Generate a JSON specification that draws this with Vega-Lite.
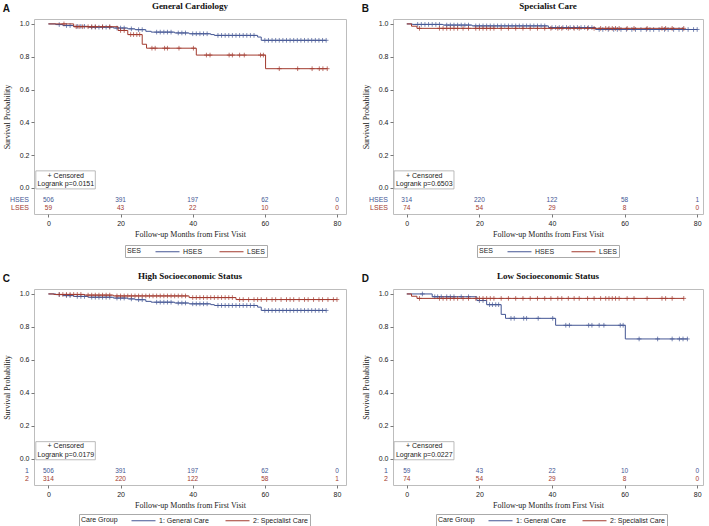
{
"$schema": "https://vega.github.io/schema/vega-lite/v6.json",
"padding": {"left": 2, "top": 1, "right": 0, "bottom": 0},
"datasets": {
"GCH": [{"t":0,"s":1,"c":0},{"t":2,"s":0.996,"c":0},{"t":3,"s":0.996,"c":1},{"t":4,"s":0.99,"c":0},{"t":5,"s":0.99,"c":1},{"t":6,"s":0.99,"c":1},{"t":7,"s":0.985,"c":0},{"t":8,"s":0.985,"c":1},{"t":9,"s":0.985,"c":1},{"t":10,"s":0.985,"c":1},{"t":11,"s":0.98,"c":0},{"t":12,"s":0.98,"c":1},{"t":13,"s":0.98,"c":1},{"t":14,"s":0.98,"c":1},{"t":15,"s":0.98,"c":1},{"t":16,"s":0.98,"c":1},{"t":17,"s":0.98,"c":1},{"t":18,"s":0.975,"c":0},{"t":19,"s":0.975,"c":1},{"t":20,"s":0.975,"c":1},{"t":21,"s":0.975,"c":1},{"t":22,"s":0.97,"c":0},{"t":23,"s":0.97,"c":1},{"t":24,"s":0.965,"c":0},{"t":25,"s":0.965,"c":1},{"t":26,"s":0.965,"c":1},{"t":27,"s":0.955,"c":0},{"t":28.5,"s":0.95,"c":0},{"t":30,"s":0.95,"c":1},{"t":31,"s":0.95,"c":1},{"t":32,"s":0.95,"c":1},{"t":33,"s":0.95,"c":1},{"t":34,"s":0.95,"c":1},{"t":35,"s":0.945,"c":0},{"t":36,"s":0.945,"c":1},{"t":37,"s":0.945,"c":1},{"t":38,"s":0.945,"c":1},{"t":39,"s":0.94,"c":0},{"t":40,"s":0.94,"c":1},{"t":41,"s":0.94,"c":1},{"t":42,"s":0.94,"c":1},{"t":43,"s":0.94,"c":1},{"t":44,"s":0.94,"c":1},{"t":45,"s":0.935,"c":0},{"t":46,"s":0.93,"c":0},{"t":47,"s":0.93,"c":1},{"t":48,"s":0.93,"c":1},{"t":49,"s":0.93,"c":1},{"t":50,"s":0.93,"c":1},{"t":51,"s":0.93,"c":1},{"t":52,"s":0.93,"c":1},{"t":53,"s":0.93,"c":1},{"t":54,"s":0.93,"c":1},{"t":55,"s":0.93,"c":1},{"t":56,"s":0.93,"c":1},{"t":57,"s":0.93,"c":1},{"t":58,"s":0.92,"c":0},{"t":59,"s":0.9,"c":0},{"t":60,"s":0.9,"c":1},{"t":61,"s":0.9,"c":1},{"t":62,"s":0.9,"c":1},{"t":63,"s":0.9,"c":1},{"t":64,"s":0.9,"c":1},{"t":65,"s":0.9,"c":1},{"t":66,"s":0.9,"c":1},{"t":67,"s":0.9,"c":1},{"t":68,"s":0.9,"c":1},{"t":69,"s":0.9,"c":1},{"t":70,"s":0.9,"c":1},{"t":71,"s":0.9,"c":1},{"t":72,"s":0.9,"c":1},{"t":73,"s":0.9,"c":1},{"t":74,"s":0.9,"c":1},{"t":75,"s":0.9,"c":1},{"t":76,"s":0.9,"c":1},{"t":77,"s":0.9,"c":1}],
"GCL": [{"t":0,"s":1,"c":0},{"t":4.3,"s":1,"c":1},{"t":7,"s":0.983,"c":0},{"t":7.7,"s":0.983,"c":1},{"t":8.5,"s":0.983,"c":1},{"t":9.5,"s":0.983,"c":1},{"t":11,"s":0.983,"c":1},{"t":12,"s":0.983,"c":1},{"t":13,"s":0.983,"c":1},{"t":15,"s":0.983,"c":1},{"t":17,"s":0.983,"c":1},{"t":19.3,"s":0.96,"c":0},{"t":20,"s":0.96,"c":1},{"t":21,"s":0.96,"c":1},{"t":22,"s":0.935,"c":0},{"t":22.8,"s":0.935,"c":1},{"t":23.6,"s":0.935,"c":1},{"t":24.5,"s":0.935,"c":1},{"t":25.3,"s":0.935,"c":1},{"t":26,"s":0.876,"c":0},{"t":27.2,"s":0.852,"c":0},{"t":28.7,"s":0.852,"c":1},{"t":29.6,"s":0.852,"c":1},{"t":32.2,"s":0.852,"c":1},{"t":33,"s":0.852,"c":1},{"t":36.2,"s":0.852,"c":1},{"t":40.2,"s":0.852,"c":1},{"t":41,"s":0.81,"c":0},{"t":43.8,"s":0.81,"c":1},{"t":44.8,"s":0.81,"c":1},{"t":50.1,"s":0.81,"c":1},{"t":51,"s":0.81,"c":1},{"t":53,"s":0.81,"c":1},{"t":54.3,"s":0.81,"c":1},{"t":58.8,"s":0.81,"c":1},{"t":59.6,"s":0.81,"c":1},{"t":60.2,"s":0.727,"c":0},{"t":64,"s":0.727,"c":1},{"t":69.1,"s":0.727,"c":1},{"t":73.1,"s":0.727,"c":1},{"t":75.1,"s":0.727,"c":1},{"t":76.1,"s":0.727,"c":1},{"t":77.3,"s":0.727,"c":1}],
"SCH": [{"t":0,"s":1,"c":0},{"t":1.5,"s":0.997,"c":0},{"t":3,"s":0.997,"c":1},{"t":4,"s":0.997,"c":1},{"t":5,"s":0.997,"c":1},{"t":6,"s":0.997,"c":1},{"t":7,"s":0.997,"c":1},{"t":8,"s":0.997,"c":1},{"t":9,"s":0.997,"c":1},{"t":10,"s":0.993,"c":0},{"t":11,"s":0.993,"c":1},{"t":12,"s":0.993,"c":1},{"t":13,"s":0.993,"c":1},{"t":14,"s":0.993,"c":1},{"t":15,"s":0.993,"c":1},{"t":16,"s":0.993,"c":1},{"t":17,"s":0.993,"c":1},{"t":18,"s":0.988,"c":0},{"t":19,"s":0.988,"c":1},{"t":20,"s":0.988,"c":1},{"t":21,"s":0.988,"c":1},{"t":22,"s":0.988,"c":1},{"t":23,"s":0.988,"c":1},{"t":24,"s":0.988,"c":1},{"t":25,"s":0.988,"c":1},{"t":26,"s":0.988,"c":1},{"t":27,"s":0.988,"c":1},{"t":28,"s":0.988,"c":1},{"t":29,"s":0.988,"c":1},{"t":30,"s":0.988,"c":1},{"t":31,"s":0.988,"c":1},{"t":32,"s":0.988,"c":1},{"t":33,"s":0.988,"c":1},{"t":34,"s":0.988,"c":1},{"t":35,"s":0.988,"c":1},{"t":36,"s":0.988,"c":1},{"t":37,"s":0.988,"c":1},{"t":38,"s":0.988,"c":1},{"t":39,"s":0.978,"c":0},{"t":40,"s":0.978,"c":1},{"t":41,"s":0.978,"c":1},{"t":42,"s":0.978,"c":1},{"t":43,"s":0.978,"c":1},{"t":44,"s":0.978,"c":1},{"t":45,"s":0.978,"c":1},{"t":46,"s":0.978,"c":1},{"t":47,"s":0.978,"c":1},{"t":48,"s":0.978,"c":1},{"t":49,"s":0.978,"c":1},{"t":50,"s":0.978,"c":1},{"t":51,"s":0.978,"c":1},{"t":52,"s":0.966,"c":0},{"t":53,"s":0.966,"c":1},{"t":54,"s":0.966,"c":1},{"t":55.5,"s":0.966,"c":1},{"t":57,"s":0.966,"c":1},{"t":58,"s":0.966,"c":1},{"t":59,"s":0.966,"c":1},{"t":60.5,"s":0.966,"c":1},{"t":62,"s":0.966,"c":1},{"t":63,"s":0.966,"c":1},{"t":64.5,"s":0.966,"c":1},{"t":66,"s":0.966,"c":1},{"t":67,"s":0.966,"c":1},{"t":68,"s":0.966,"c":1},{"t":69.5,"s":0.966,"c":1},{"t":71,"s":0.966,"c":1},{"t":72,"s":0.966,"c":1},{"t":73.5,"s":0.966,"c":1},{"t":75,"s":0.966,"c":1},{"t":76,"s":0.966,"c":1},{"t":77.5,"s":0.966,"c":1},{"t":79,"s":0.966,"c":1},{"t":80,"s":0.966,"c":1}],
"SCL": [{"t":0,"s":1,"c":0},{"t":1.3,"s":0.986,"c":0},{"t":2.8,"s":0.973,"c":0},{"t":3.5,"s":0.973,"c":1},{"t":9,"s":0.973,"c":1},{"t":10,"s":0.973,"c":1},{"t":11,"s":0.973,"c":1},{"t":12,"s":0.973,"c":1},{"t":13,"s":0.973,"c":1},{"t":14,"s":0.973,"c":1},{"t":15.5,"s":0.973,"c":1},{"t":17,"s":0.973,"c":1},{"t":19,"s":0.973,"c":1},{"t":20,"s":0.973,"c":1},{"t":21,"s":0.973,"c":1},{"t":22,"s":0.973,"c":1},{"t":23,"s":0.973,"c":1},{"t":24,"s":0.973,"c":1},{"t":26,"s":0.973,"c":1},{"t":28,"s":0.973,"c":1},{"t":30,"s":0.973,"c":1},{"t":32,"s":0.973,"c":1},{"t":34,"s":0.973,"c":1},{"t":36,"s":0.973,"c":1},{"t":38,"s":0.973,"c":1},{"t":39.7,"s":0.973,"c":1},{"t":41.6,"s":0.973,"c":1},{"t":42.7,"s":0.973,"c":1},{"t":44.5,"s":0.973,"c":1},{"t":46.1,"s":0.973,"c":1},{"t":47.5,"s":0.973,"c":1},{"t":49.8,"s":0.973,"c":1},{"t":51.6,"s":0.973,"c":1},{"t":53.4,"s":0.973,"c":1},{"t":54.8,"s":0.973,"c":1},{"t":55.7,"s":0.973,"c":1},{"t":56.6,"s":0.973,"c":1},{"t":57.5,"s":0.973,"c":1},{"t":58.5,"s":0.973,"c":1},{"t":60.7,"s":0.973,"c":1},{"t":62.6,"s":0.973,"c":1},{"t":66.2,"s":0.973,"c":1},{"t":70.3,"s":0.973,"c":1},{"t":71.3,"s":0.973,"c":1},{"t":73.1,"s":0.973,"c":1},{"t":76.3,"s":0.973,"c":1}],
"risk": [{"k":"GCH","t":0,"n":"506"},{"k":"GCH","t":20,"n":"391"},{"k":"GCH","t":40,"n":"197"},{"k":"GCH","t":60,"n":"62"},{"k":"GCH","t":80,"n":"0"},
{"k":"GCL","t":0,"n":"59"},{"k":"GCL","t":20,"n":"43"},{"k":"GCL","t":40,"n":"22"},{"k":"GCL","t":60,"n":"10"},{"k":"GCL","t":80,"n":"0"},
{"k":"SCH","t":0,"n":"314"},{"k":"SCH","t":20,"n":"220"},{"k":"SCH","t":40,"n":"122"},{"k":"SCH","t":60,"n":"58"},{"k":"SCH","t":80,"n":"1"},
{"k":"SCL","t":0,"n":"74"},{"k":"SCL","t":20,"n":"54"},{"k":"SCL","t":40,"n":"29"},{"k":"SCL","t":60,"n":"8"},{"k":"SCL","t":80,"n":"0"}]
},
"columns": 2,
"spacing": {"row": 13, "column": 14},
"resolve": {"scale": {"x": "independent", "y": "independent", "color": "independent"}, "legend": {"color": "independent"}},
"concat": [
{"title": {"text": "A", "anchor": "start", "frame": "bounds", "font": "Liberation Sans", "fontSize": 10, "fontWeight": "bold", "offset": -12},
 "vconcat": [{"width": 312, "height": 195, "title": {"text": "General Cardiology"},
  "layer": [
   {"layer": [
     {"data": {"name": "GCH"}, "mark": {"type": "line", "interpolate": "step-after", "strokeWidth": 1},
      "encoding": {"x": {"field": "t", "type": "quantitative", "scale": {"domain": [-4, 82.5], "nice": false, "zero": false}, "axis": {"values": [0, 20, 40, 60, 80], "title": "Follow-up Months from First Visit"}},
                   "y": {"field": "s", "type": "quantitative", "scale": {"domain": [-0.159, 1.03], "nice": false, "zero": false}, "axis": {"values": [0, 0.2, 0.4, 0.6, 0.8, 1], "format": ".1f", "title": "Survival Probability", "labelOverlap": false, "tickCount": 6}},
                   "color": {"datum": "HSES", "type": "nominal", "scale": {"domain": ["HSES", "LSES"], "range": ["#445694", "#A23A2E"]}, "legend": {"title": "SES", "orient": "none", "legendX": 91, "legendY": 226}}}},
     {"data": {"name": "GCH"}, "transform": [{"filter": "datum.c == 1"}], "mark": {"type": "point", "shape": "M-1,0L1,0M0,-1L0,1", "size": 22, "strokeWidth": 0.7, "filled": false, "opacity": 1},
      "encoding": {"x": {"field": "t", "type": "quantitative"}, "y": {"field": "s", "type": "quantitative"}, "color": {"datum": "HSES", "type": "nominal"}}},
     {"data": {"name": "risk"}, "transform": [{"filter": "datum.k == 'GCH'"}], "mark": {"type": "text", "fontSize": 6.5, "font": "Liberation Sans"},
      "encoding": {"x": {"field": "t", "type": "quantitative"}, "y": {"datum": -0.073}, "text": {"field": "n"}, "color": {"datum": "HSES", "type": "nominal"}}},
     {"data": {"name": "risk"}, "transform": [{"filter": "datum.k == 'GCH' && datum.t == 0"}], "mark": {"type": "text", "fontSize": 7, "font": "Liberation Sans", "align": "right", "dx": -5},
      "encoding": {"x": {"datum": -4}, "y": {"datum": -0.073}, "text": {"value": "HSES"}, "color": {"datum": "HSES", "type": "nominal"}}}
   ]},
   {"layer": [
     {"data": {"name": "GCL"}, "mark": {"type": "line", "interpolate": "step-after", "strokeWidth": 1},
      "encoding": {"x": {"field": "t", "type": "quantitative"}, "y": {"field": "s", "type": "quantitative"}, "color": {"datum": "LSES", "type": "nominal"}}},
     {"data": {"name": "GCL"}, "transform": [{"filter": "datum.c == 1"}], "mark": {"type": "point", "shape": "M-1,0L1,0M0,-1L0,1", "size": 22, "strokeWidth": 0.7, "filled": false, "opacity": 1},
      "encoding": {"x": {"field": "t", "type": "quantitative"}, "y": {"field": "s", "type": "quantitative"}, "color": {"datum": "LSES", "type": "nominal"}}},
     {"data": {"name": "risk"}, "transform": [{"filter": "datum.k == 'GCL'"}], "mark": {"type": "text", "fontSize": 6.5, "font": "Liberation Sans"},
      "encoding": {"x": {"field": "t", "type": "quantitative"}, "y": {"datum": -0.122}, "text": {"field": "n"}, "color": {"datum": "LSES", "type": "nominal"}}},
     {"data": {"name": "risk"}, "transform": [{"filter": "datum.k == 'GCL' && datum.t == 0"}], "mark": {"type": "text", "fontSize": 7, "font": "Liberation Sans", "align": "right", "dx": -5},
      "encoding": {"x": {"datum": -4}, "y": {"datum": -0.122}, "text": {"value": "LSES"}, "color": {"datum": "LSES", "type": "nominal"}}}
   ]},
   {"data": {"values": [{"p": "Logrank p=0.0151"}]}, "layer": [
     {"mark": {"type": "rect", "fill": "white", "stroke": "#aaaaaa", "strokeWidth": 0.8}, "encoding": {"x": {"datum": -3.5}, "x2": {"datum": 13}, "y": {"datum": 0.104}, "y2": {"datum": -0.006}}},
     {"mark": {"type": "text", "fontSize": 7, "font": "Liberation Sans", "color": "#222"}, "encoding": {"x": {"datum": 4.8}, "y": {"datum": 0.075}, "text": {"value": "+ Censored"}}},
     {"mark": {"type": "text", "fontSize": 7, "font": "Liberation Sans", "color": "#222"}, "encoding": {"x": {"datum": 4.8}, "y": {"datum": 0.022}, "text": {"field": "p"}}}
   ]}
  ]}]},
{"title": {"text": "B", "anchor": "start", "frame": "bounds", "font": "Liberation Sans", "fontSize": 10, "fontWeight": "bold", "offset": -12},
 "vconcat": [{"width": 310, "height": 195, "title": {"text": "Specialist Care"},
  "layer": [
   {"layer": [
     {"data": {"name": "SCH"}, "mark": {"type": "line", "interpolate": "step-after", "strokeWidth": 1},
      "encoding": {"x": {"field": "t", "type": "quantitative", "scale": {"domain": [-3.8, 81.6], "nice": false, "zero": false}, "axis": {"values": [0, 20, 40, 60, 80], "title": "Follow-up Months from First Visit"}},
                   "y": {"field": "s", "type": "quantitative", "scale": {"domain": [-0.159, 1.03], "nice": false, "zero": false}, "axis": {"values": [0, 0.2, 0.4, 0.6, 0.8, 1], "format": ".1f", "title": "Survival Probability", "labelOverlap": false, "tickCount": 6}},
                   "color": {"datum": "HSES", "type": "nominal", "scale": {"domain": ["HSES", "LSES"], "range": ["#445694", "#A23A2E"]}, "legend": {"title": "SES", "orient": "none", "legendX": 84, "legendY": 226}}}},
     {"data": {"name": "SCH"}, "transform": [{"filter": "datum.c == 1"}], "mark": {"type": "point", "shape": "M-1,0L1,0M0,-1L0,1", "size": 22, "strokeWidth": 0.7, "filled": false, "opacity": 1},
      "encoding": {"x": {"field": "t", "type": "quantitative"}, "y": {"field": "s", "type": "quantitative"}, "color": {"datum": "HSES", "type": "nominal"}}},
     {"data": {"name": "risk"}, "transform": [{"filter": "datum.k == 'SCH'"}], "mark": {"type": "text", "fontSize": 6.5, "font": "Liberation Sans"},
      "encoding": {"x": {"field": "t", "type": "quantitative"}, "y": {"datum": -0.073}, "text": {"field": "n"}, "color": {"datum": "HSES", "type": "nominal"}}},
     {"data": {"name": "risk"}, "transform": [{"filter": "datum.k == 'SCH' && datum.t == 0"}], "mark": {"type": "text", "fontSize": 7, "font": "Liberation Sans", "align": "right", "dx": -5},
      "encoding": {"x": {"datum": -3.8}, "y": {"datum": -0.073}, "text": {"value": "HSES"}, "color": {"datum": "HSES", "type": "nominal"}}}
   ]},
   {"layer": [
     {"data": {"name": "SCL"}, "mark": {"type": "line", "interpolate": "step-after", "strokeWidth": 1},
      "encoding": {"x": {"field": "t", "type": "quantitative"}, "y": {"field": "s", "type": "quantitative"}, "color": {"datum": "LSES", "type": "nominal"}}},
     {"data": {"name": "SCL"}, "transform": [{"filter": "datum.c == 1"}], "mark": {"type": "point", "shape": "M-1,0L1,0M0,-1L0,1", "size": 22, "strokeWidth": 0.7, "filled": false, "opacity": 1},
      "encoding": {"x": {"field": "t", "type": "quantitative"}, "y": {"field": "s", "type": "quantitative"}, "color": {"datum": "LSES", "type": "nominal"}}},
     {"data": {"name": "risk"}, "transform": [{"filter": "datum.k == 'SCL'"}], "mark": {"type": "text", "fontSize": 6.5, "font": "Liberation Sans"},
      "encoding": {"x": {"field": "t", "type": "quantitative"}, "y": {"datum": -0.122}, "text": {"field": "n"}, "color": {"datum": "LSES", "type": "nominal"}}},
     {"data": {"name": "risk"}, "transform": [{"filter": "datum.k == 'SCL' && datum.t == 0"}], "mark": {"type": "text", "fontSize": 7, "font": "Liberation Sans", "align": "right", "dx": -5},
      "encoding": {"x": {"datum": -3.8}, "y": {"datum": -0.122}, "text": {"value": "LSES"}, "color": {"datum": "LSES", "type": "nominal"}}}
   ]},
   {"data": {"values": [{"p": "Logrank p=0.6503"}]}, "layer": [
     {"mark": {"type": "rect", "fill": "white", "stroke": "#aaaaaa", "strokeWidth": 0.8}, "encoding": {"x": {"datum": -3.5}, "x2": {"datum": 13}, "y": {"datum": 0.104}, "y2": {"datum": -0.006}}},
     {"mark": {"type": "text", "fontSize": 7, "font": "Liberation Sans", "color": "#222"}, "encoding": {"x": {"datum": 4.8}, "y": {"datum": 0.075}, "text": {"value": "+ Censored"}}},
     {"mark": {"type": "text", "fontSize": 7, "font": "Liberation Sans", "color": "#222"}, "encoding": {"x": {"datum": 4.8}, "y": {"datum": 0.022}, "text": {"field": "p"}}}
   ]}
  ]}]},
{"title": {"text": "C", "anchor": "start", "frame": "bounds", "font": "Liberation Sans", "fontSize": 10, "fontWeight": "bold", "offset": -12},
 "vconcat": [{"width": 312, "height": 196, "title": {"text": "High Socioeconomic Status"},
  "layer": [
   {"layer": [
     {"data": {"name": "GCH"}, "mark": {"type": "line", "interpolate": "step-after", "strokeWidth": 1},
      "encoding": {"x": {"field": "t", "type": "quantitative", "scale": {"domain": [-4, 82.5], "nice": false, "zero": false}, "axis": {"values": [0, 20, 40, 60, 80], "title": "Follow-up Months from First Visit"}},
                   "y": {"field": "s", "type": "quantitative", "scale": {"domain": [-0.159, 1.03], "nice": false, "zero": false}, "axis": {"values": [0, 0.2, 0.4, 0.6, 0.8, 1], "format": ".1f", "title": "Survival Probability", "labelOverlap": false, "tickCount": 6}},
                   "color": {"datum": "1: General Care", "type": "nominal", "scale": {"domain": ["1: General Care", "2: Specialist Care"], "range": ["#445694", "#A23A2E"]}, "legend": {"title": "Care Group", "orient": "none", "legendX": 45, "legendY": 225}}}},
     {"data": {"name": "GCH"}, "transform": [{"filter": "datum.c == 1"}], "mark": {"type": "point", "shape": "M-1,0L1,0M0,-1L0,1", "size": 22, "strokeWidth": 0.7, "filled": false, "opacity": 1},
      "encoding": {"x": {"field": "t", "type": "quantitative"}, "y": {"field": "s", "type": "quantitative"}, "color": {"datum": "1: General Care", "type": "nominal"}}},
     {"data": {"name": "risk"}, "transform": [{"filter": "datum.k == 'GCH'"}], "mark": {"type": "text", "fontSize": 6.5, "font": "Liberation Sans"},
      "encoding": {"x": {"field": "t", "type": "quantitative"}, "y": {"datum": -0.073}, "text": {"field": "n"}, "color": {"datum": "1: General Care", "type": "nominal"}}},
     {"data": {"name": "risk"}, "transform": [{"filter": "datum.k == 'GCH' && datum.t == 0"}], "mark": {"type": "text", "fontSize": 7, "font": "Liberation Sans", "align": "right", "dx": -5},
      "encoding": {"x": {"datum": -4}, "y": {"datum": -0.073}, "text": {"value": "1"}, "color": {"datum": "1: General Care", "type": "nominal"}}}
   ]},
   {"layer": [
     {"data": {"name": "SCH"}, "mark": {"type": "line", "interpolate": "step-after", "strokeWidth": 1},
      "encoding": {"x": {"field": "t", "type": "quantitative"}, "y": {"field": "s", "type": "quantitative"}, "color": {"datum": "2: Specialist Care", "type": "nominal"}}},
     {"data": {"name": "SCH"}, "transform": [{"filter": "datum.c == 1"}], "mark": {"type": "point", "shape": "M-1,0L1,0M0,-1L0,1", "size": 22, "strokeWidth": 0.7, "filled": false, "opacity": 1},
      "encoding": {"x": {"field": "t", "type": "quantitative"}, "y": {"field": "s", "type": "quantitative"}, "color": {"datum": "2: Specialist Care", "type": "nominal"}}},
     {"data": {"name": "risk"}, "transform": [{"filter": "datum.k == 'SCH'"}], "mark": {"type": "text", "fontSize": 6.5, "font": "Liberation Sans"},
      "encoding": {"x": {"field": "t", "type": "quantitative"}, "y": {"datum": -0.122}, "text": {"field": "n"}, "color": {"datum": "2: Specialist Care", "type": "nominal"}}},
     {"data": {"name": "risk"}, "transform": [{"filter": "datum.k == 'SCH' && datum.t == 0"}], "mark": {"type": "text", "fontSize": 7, "font": "Liberation Sans", "align": "right", "dx": -5},
      "encoding": {"x": {"datum": -4}, "y": {"datum": -0.122}, "text": {"value": "2"}, "color": {"datum": "2: Specialist Care", "type": "nominal"}}}
   ]},
   {"data": {"values": [{"p": "Logrank p=0.0179"}]}, "layer": [
     {"mark": {"type": "rect", "fill": "white", "stroke": "#aaaaaa", "strokeWidth": 0.8}, "encoding": {"x": {"datum": -3.5}, "x2": {"datum": 13}, "y": {"datum": 0.104}, "y2": {"datum": -0.006}}},
     {"mark": {"type": "text", "fontSize": 7, "font": "Liberation Sans", "color": "#222"}, "encoding": {"x": {"datum": 4.8}, "y": {"datum": 0.075}, "text": {"value": "+ Censored"}}},
     {"mark": {"type": "text", "fontSize": 7, "font": "Liberation Sans", "color": "#222"}, "encoding": {"x": {"datum": 4.8}, "y": {"datum": 0.022}, "text": {"field": "p"}}}
   ]}
  ]}]},
{"title": {"text": "D", "anchor": "start", "frame": "bounds", "font": "Liberation Sans", "fontSize": 10, "fontWeight": "bold", "offset": -12},
 "vconcat": [{"width": 310, "height": 196, "title": {"text": "Low Socioeconomic Status"},
  "layer": [
   {"layer": [
     {"data": {"name": "GCL"}, "mark": {"type": "line", "interpolate": "step-after", "strokeWidth": 1},
      "encoding": {"x": {"field": "t", "type": "quantitative", "scale": {"domain": [-3.8, 81.6], "nice": false, "zero": false}, "axis": {"values": [0, 20, 40, 60, 80], "title": "Follow-up Months from First Visit"}},
                   "y": {"field": "s", "type": "quantitative", "scale": {"domain": [-0.159, 1.03], "nice": false, "zero": false}, "axis": {"values": [0, 0.2, 0.4, 0.6, 0.8, 1], "format": ".1f", "title": "Survival Probability", "labelOverlap": false, "tickCount": 6}},
                   "color": {"datum": "1: General Care", "type": "nominal", "scale": {"domain": ["1: General Care", "2: Specialist Care"], "range": ["#445694", "#A23A2E"]}, "legend": {"title": "Care Group", "orient": "none", "legendX": 43, "legendY": 225}}}},
     {"data": {"name": "GCL"}, "transform": [{"filter": "datum.c == 1"}], "mark": {"type": "point", "shape": "M-1,0L1,0M0,-1L0,1", "size": 22, "strokeWidth": 0.7, "filled": false, "opacity": 1},
      "encoding": {"x": {"field": "t", "type": "quantitative"}, "y": {"field": "s", "type": "quantitative"}, "color": {"datum": "1: General Care", "type": "nominal"}}},
     {"data": {"name": "risk"}, "transform": [{"filter": "datum.k == 'GCL'"}], "mark": {"type": "text", "fontSize": 6.5, "font": "Liberation Sans"},
      "encoding": {"x": {"field": "t", "type": "quantitative"}, "y": {"datum": -0.073}, "text": {"field": "n"}, "color": {"datum": "1: General Care", "type": "nominal"}}},
     {"data": {"name": "risk"}, "transform": [{"filter": "datum.k == 'GCL' && datum.t == 0"}], "mark": {"type": "text", "fontSize": 7, "font": "Liberation Sans", "align": "right", "dx": -5},
      "encoding": {"x": {"datum": -3.8}, "y": {"datum": -0.073}, "text": {"value": "1"}, "color": {"datum": "1: General Care", "type": "nominal"}}}
   ]},
   {"layer": [
     {"data": {"name": "SCL"}, "mark": {"type": "line", "interpolate": "step-after", "strokeWidth": 1},
      "encoding": {"x": {"field": "t", "type": "quantitative"}, "y": {"field": "s", "type": "quantitative"}, "color": {"datum": "2: Specialist Care", "type": "nominal"}}},
     {"data": {"name": "SCL"}, "transform": [{"filter": "datum.c == 1"}], "mark": {"type": "point", "shape": "M-1,0L1,0M0,-1L0,1", "size": 22, "strokeWidth": 0.7, "filled": false, "opacity": 1},
      "encoding": {"x": {"field": "t", "type": "quantitative"}, "y": {"field": "s", "type": "quantitative"}, "color": {"datum": "2: Specialist Care", "type": "nominal"}}},
     {"data": {"name": "risk"}, "transform": [{"filter": "datum.k == 'SCL'"}], "mark": {"type": "text", "fontSize": 6.5, "font": "Liberation Sans"},
      "encoding": {"x": {"field": "t", "type": "quantitative"}, "y": {"datum": -0.122}, "text": {"field": "n"}, "color": {"datum": "2: Specialist Care", "type": "nominal"}}},
     {"data": {"name": "risk"}, "transform": [{"filter": "datum.k == 'SCL' && datum.t == 0"}], "mark": {"type": "text", "fontSize": 7, "font": "Liberation Sans", "align": "right", "dx": -5},
      "encoding": {"x": {"datum": -3.8}, "y": {"datum": -0.122}, "text": {"value": "2"}, "color": {"datum": "2: Specialist Care", "type": "nominal"}}}
   ]},
   {"data": {"values": [{"p": "Logrank p=0.0227"}]}, "layer": [
     {"mark": {"type": "rect", "fill": "white", "stroke": "#aaaaaa", "strokeWidth": 0.8}, "encoding": {"x": {"datum": -3.5}, "x2": {"datum": 13}, "y": {"datum": 0.104}, "y2": {"datum": -0.006}}},
     {"mark": {"type": "text", "fontSize": 7, "font": "Liberation Sans", "color": "#222"}, "encoding": {"x": {"datum": 4.8}, "y": {"datum": 0.075}, "text": {"value": "+ Censored"}}},
     {"mark": {"type": "text", "fontSize": 7, "font": "Liberation Sans", "color": "#222"}, "encoding": {"x": {"datum": 4.8}, "y": {"datum": 0.022}, "text": {"field": "p"}}}
   ]}
  ]}]}
],
"config": {
 "view": {"stroke": "#bdbdbd", "strokeWidth": 1},
 "axis": {"grid": false, "domain": false, "tickColor": "#777777", "tickSize": 3, "labelFont": "Liberation Sans", "labelFontSize": 7, "labelColor": "#222222", "titleFont": "Liberation Serif", "titleFontSize": 8, "titleFontWeight": "normal", "titleColor": "#222222", "labelPadding": 2, "labelOverlap": false},
 "axisY": {"titlePadding": 8},
 "axisX": {"titlePadding": 4},
 "title": {"font": "Liberation Serif", "fontSize": 9, "fontWeight": "bold", "color": "#111111", "offset": 8},
 "legend": {"direction": "horizontal", "titleOrient": "left", "symbolType": "M-3,0L3,0", "symbolSize": 64, "symbolStrokeWidth": 1, "labelFont": "Liberation Sans", "labelFontSize": 7, "labelColor": "#222222", "titleFont": "Liberation Sans", "titleFontSize": 7, "titleFontWeight": "normal", "titleColor": "#222222", "strokeColor": "#aaaaaa", "padding": 2, "columnPadding": 14, "labelOffset": 11, "titlePadding": 21}
}
}
